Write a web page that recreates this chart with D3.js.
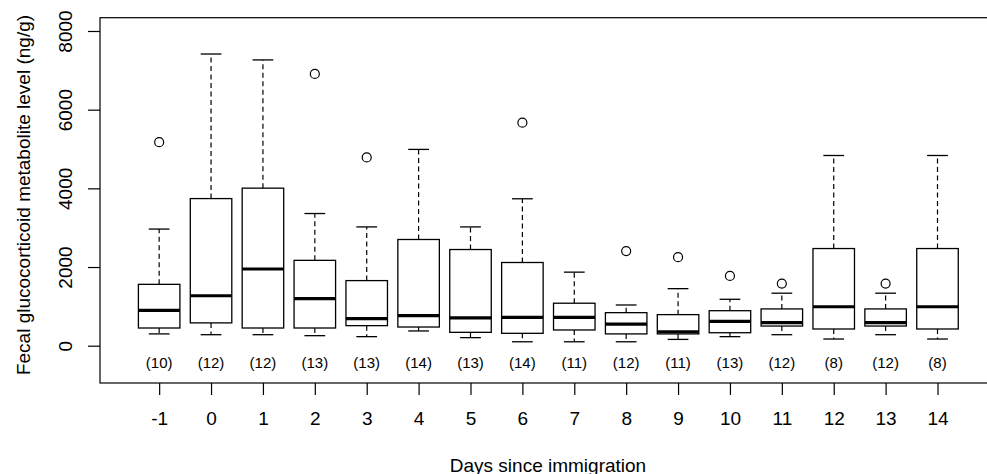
<!DOCTYPE html>
<html>
<head>
<meta charset="utf-8">
<script src="https://cdn.jsdelivr.net/npm/d3@7"></script>
<style>
  html, body { margin: 0; padding: 0; background: #fff; }
  svg { display: block; font-family: "Liberation Sans", Arial, Helvetica, sans-serif; }
</style>
</head>
<body>
<svg id="chart" width="987" height="474"></svg>
<script>
// ---- data ----
const categories = ["-1","0","1","2","3","4","5","6","7","8","9","10","11","12","13","14"];
const whiskerLow  = [300, 280, 280, 255, 230, 375, 205, 100, 100, 100, 160, 230, 280, 170, 280, 170];
const q1          = [450, 580, 450, 450, 510, 475, 340, 315, 400, 300, 300, 330, 500, 425, 500, 425];
const medians     = [900, 1270, 1950, 1195, 690, 765, 705, 720, 720, 550, 355, 620, 585, 990, 585, 990];
const q3          = [1560, 3740, 4005, 2170, 1655, 2700, 2445, 2115, 1080, 840, 790, 890, 935, 2470, 935, 2470];
const whiskerHigh = [2965, 7415, 7265, 3360, 3020, 4990, 3020, 3735, 1870, 1035, 1450, 1180, 1335, 4835, 1335, 4835];
const outliers    = [[5175], [], [], [6910], [4785], [], [], [5670], [], [2405], [2250], [1775], [1580], [], [1580], []];
const counts      = [10, 12, 12, 13, 13, 14, 13, 14, 11, 12, 11, 13, 12, 8, 12, 8];
const yTicks      = [0, 2000, 4000, 6000, 8000];
const countLabelY = -420;

// ---- layout ----
const svg = d3.select("#chart");
const plotLeft = 100, plotTop = 17.7, plotBottom = 383;
const n = categories.length;
const unit = 51.89;
const x = d3.scaleLinear()
  .domain([0.5 - 0.04 * n, n + 0.5 + 0.04 * n])
  .range([plotLeft, plotLeft + unit * (n * 1.08)]);
const y = d3.scaleLinear().domain([-948, 8338]).range([plotBottom, plotTop]);
const plotRight = x.range()[1];

const boxW = 0.8 * unit, capW = 0.4 * unit;
const g = svg.append("g");

categories.forEach((c, i) => {
  const cx = x(i + 1);
  // whiskers (dashed)
  g.append("line").attr("x1", cx).attr("x2", cx)
    .attr("y1", y(q3[i])).attr("y2", y(whiskerHigh[i]))
    .attr("stroke", "#000").attr("stroke-width", 1.2).attr("stroke-dasharray", "5,3.5");
  g.append("line").attr("x1", cx).attr("x2", cx)
    .attr("y1", y(q1[i])).attr("y2", y(whiskerLow[i]))
    .attr("stroke", "#000").attr("stroke-width", 1.2).attr("stroke-dasharray", "5,3.5");
  // caps
  [whiskerHigh[i], whiskerLow[i]].forEach(v => {
    g.append("line").attr("x1", cx - capW / 2).attr("x2", cx + capW / 2)
      .attr("y1", y(v)).attr("y2", y(v))
      .attr("stroke", "#000").attr("stroke-width", 1.3);
  });
  // box
  g.append("rect").attr("x", cx - boxW / 2).attr("width", boxW)
    .attr("y", y(q3[i])).attr("height", y(q1[i]) - y(q3[i]))
    .attr("fill", "none").attr("stroke", "#000").attr("stroke-width", 1.3);
  // median
  g.append("line").attr("x1", cx - boxW / 2).attr("x2", cx + boxW / 2)
    .attr("y1", y(medians[i])).attr("y2", y(medians[i]))
    .attr("stroke", "#000").attr("stroke-width", 3.2);
  // outliers
  outliers[i].forEach(v => {
    g.append("circle").attr("cx", cx).attr("cy", y(v)).attr("r", 4.5)
      .attr("fill", "none").attr("stroke", "#000").attr("stroke-width", 1.2);
  });
  // counts
  g.append("text").attr("x", cx).attr("y", y(countLabelY))
    .attr("text-anchor", "middle").attr("dominant-baseline", "central")
    .attr("font-size", 15).attr("fill", "#000").text("(" + counts[i] + ")");
});

// ---- frame ----
svg.append("rect").attr("x", plotLeft).attr("y", plotTop)
  .attr("width", plotRight - plotLeft).attr("height", plotBottom - plotTop)
  .attr("fill", "none").attr("stroke", "#000").attr("stroke-width", 1.2);

// ---- axes ----
const xAxis = d3.axisBottom(x)
  .tickValues(d3.range(1, n + 1))
  .tickFormat(d => categories[d - 1])
  .tickSize(12).tickPadding(0);
const gx = svg.append("g").attr("transform", `translate(0,${plotBottom})`).call(xAxis);
gx.select(".domain").remove();
gx.selectAll(".tick line").attr("stroke", "#000").attr("stroke-width", 1.2);
gx.selectAll(".tick text").attr("font-size", 19).attr("font-family", null)
  .attr("fill", "#000").attr("dy", null).attr("y", 35).attr("dominant-baseline", "central");

const yAxis = d3.axisLeft(y).tickValues(yTicks).tickSize(12).tickFormat(d3.format("d"));
const gy = svg.append("g").attr("transform", `translate(${plotLeft},0)`).call(yAxis);
gy.select(".domain").remove();
gy.selectAll(".tick line").attr("stroke", "#000").attr("stroke-width", 1.2);
gy.selectAll(".tick text")
  .attr("font-size", 19).attr("font-family", null).attr("fill", "#000")
  .attr("x", 0).attr("dy", null).attr("text-anchor", "middle").attr("dominant-baseline", "central")
  .attr("transform", "translate(-35,0) rotate(-90)");

// ---- titles ----
svg.append("text").attr("x", 548).attr("y", 465)
  .attr("text-anchor", "middle").attr("dominant-baseline", "central")
  .attr("font-size", 19).attr("fill", "#000").text("Days since immigration");
svg.append("text")
  .attr("transform", `translate(23,195) rotate(-90)`)
  .attr("text-anchor", "middle").attr("dominant-baseline", "central")
  .attr("font-size", 19).attr("fill", "#000")
  .text("Fecal glucocorticoid metabolite level (ng/g)");
</script>
</body>
</html>
